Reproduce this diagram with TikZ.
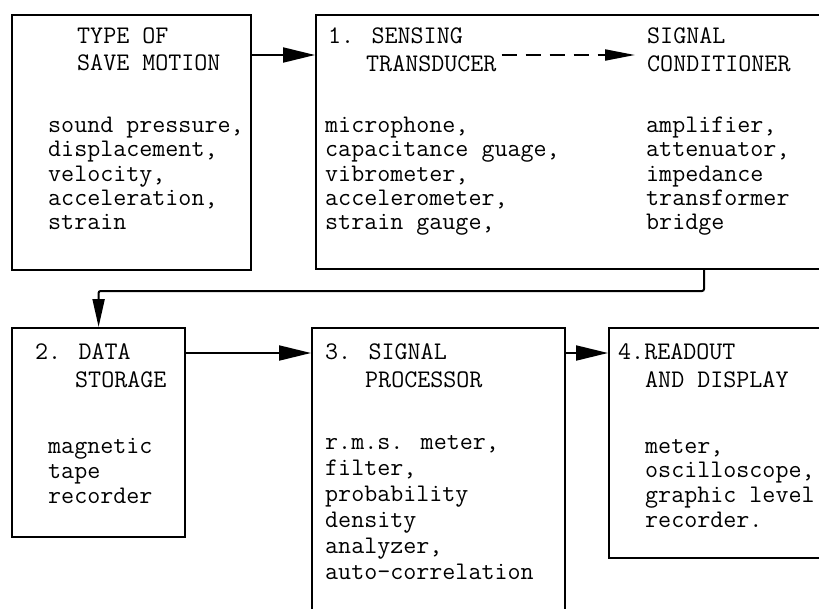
\documentclass[tikz,border=0pt]{standalone}
\usepackage{fontspec}
\usetikzlibrary{arrows.meta}
\tikzset{
  box/.style={draw, line width=2.2pt, anchor=north west, inner sep=0pt},
  txt/.style={inner sep=0pt, anchor=base west, font=\fontsize{25.3}{25}\selectfont\ttfamily},
  conn/.style={line width=2pt},
  arr/.style={conn, -{Triangle[length=32pt,width=15pt]}},
  arrdown/.style={conn, rounded corners=2pt, -{Triangle[length=28pt,width=12pt]}},
  darr/.style={conn, dash pattern=on 15pt off 9pt, -{Triangle[length=30pt,width=11pt]}}
}
\newcommand\tlines[5]{%
  \foreach \s [count=\i] in {#5} {\node[txt] (#1\i) at (#2,{#3+(\i-1)*#4}) {\s};}}
\begin{document}
\begin{tikzpicture}[x=1pt,y=-1pt]
\useasboundingbox (0,0) rectangle (819,608);
\fill[white] (0,0) rectangle (819,608);
\clip (0,0) rectangle (819,608);
% boxes
\node[box, minimum width=239pt, minimum height=255pt] (A) at (11,14) {};
\node[box, minimum width=520pt, minimum height=254pt] (B) at (315,14) {};
\node[box, minimum width=173pt, minimum height=209pt] (C) at (11,327) {};
\node[box, minimum width=253pt, minimum height=300pt] (D) at (311,327) {};
\node[box, minimum width=225pt, minimum height=230pt] (E) at (608,327) {};
% box A texts
\node[txt] (aT1) at (77,43) {TYPE OF};
\node[txt] (aT2) at (77,70) {SAVE MOTION};
\tlines{aL}{48}{132.5}{24.3}{{sound pressure,},{displacement,},{velocity,},{acceleration,},{strain}}
% box B texts
\node[txt] (bT1) at (328,43) {1. SENSING};
\node[txt] (bT2) at (366,71) {TRANSDUCER};
\node[txt] (bC1) at (647,43) {SIGNAL};
\node[txt] (bC2) at (647,71) {CONDITIONER};
\tlines{bL}{325}{132.5}{24.3}{{microphone,},{capacitance guage,},{vibrometer,},{accelerometer,},{strain gauge,}}
\tlines{bR}{646}{132.5}{24.3}{{amplifier,},{attenuator,},{impedance},{transformer},{bridge}}
% box C texts
\node[txt] (cT1) at (35,359) {2. DATA};
\node[txt] (cT2) at (75,387) {STORAGE};
\tlines{cL}{48}{453}{25}{{magnetic},{tape},{recorder}}
% box D texts
\node[txt] (dT1) at (325,359) {3. SIGNAL};
\node[txt] (dT2) at (365,387) {PROCESSOR};
\tlines{dL}{325}{449}{26}{{r.m.s. meter,},{filter,},{probability},{density},{analyzer,},{auto-correlation}}
% box E texts
\node[txt] (eT1) at (618,359) {4.READOUT};
\node[txt] (eT2) at (645,387) {AND DISPLAY};
\tlines{eL}{645}{453}{24.8}{{meter,},{oscilloscope,},{graphic level},{recorder.}}
% connectors
\coordinate (r1) at (0,55);
\coordinate (r2) at (0,353);
\coordinate (k) at (704,291);
\draw[arr] (A.east |- r1) -- (B.west |- r1);
\draw[darr] ([xshift=5pt]bT2.east |- r1) -- ([xshift=-12pt]bC2.west |- r1);
\draw[arrdown] (B.south -| k) -- (k) -- (k -| C.north) -- (C.north);
\draw[arr] (C.east |- r2) -- (D.west |- r2);
\draw[arr] (D.east |- r2) -- (E.west |- r2);
\end{tikzpicture}
\end{document}
